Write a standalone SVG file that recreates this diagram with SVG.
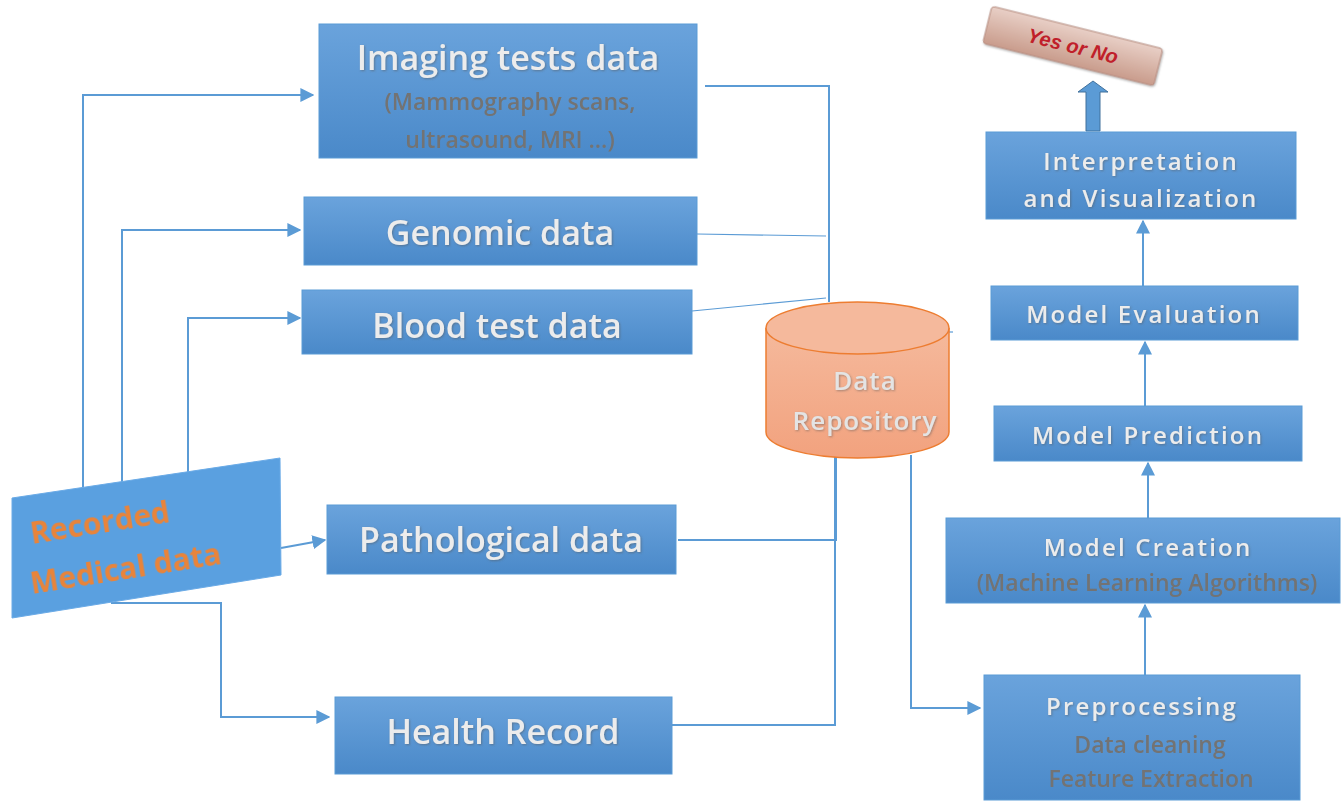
<svg xmlns="http://www.w3.org/2000/svg" width="1341" height="801" viewBox="0 0 1341 801">
<defs>
<linearGradient id="bg" x1="0" y1="0" x2="0" y2="1"><stop offset="0" stop-color="#6aa3dc"/><stop offset="1" stop-color="#4a89c9"/></linearGradient>
<linearGradient id="cyl" x1="0" y1="0" x2="0" y2="1"><stop offset="0" stop-color="#f5b99c"/><stop offset="1" stop-color="#f2a27e"/></linearGradient>
<linearGradient id="btn" x1="0" y1="0" x2="0" y2="1"><stop offset="0" stop-color="#e8cfc6"/><stop offset="1" stop-color="#c99c8c"/></linearGradient>
<marker id="ah" viewBox="0 0 10 10" refX="9" refY="5" markerWidth="14" markerHeight="14" markerUnits="userSpaceOnUse" orient="auto"><path d="M0,0 L10,5 L0,10 z" fill="#5b9bd5"/></marker>
<filter id="sh" x="-10%" y="-10%" width="130%" height="130%"><feDropShadow dx="1" dy="1" stdDeviation="0.8" flood-color="#555" flood-opacity="0.5"/></filter>
<filter id="bl" x="-10%" y="-10%" width="120%" height="130%"><feGaussianBlur stdDeviation="0.6"/></filter>
</defs>
<style>
.box{fill:url(#bg);stroke:#5b9bd5;stroke-width:1}
.t{font-family:"Open Sans","DejaVu Sans",sans-serif;fill:#ececec;text-anchor:middle;font-weight:600;filter:url(#sh)}
.tb{font-size:34px}
.tr{font-size:24px;letter-spacing:2.2px}
.s{font-family:"Open Sans","DejaVu Sans",sans-serif;fill:#737373;text-anchor:middle;font-weight:600;font-size:23px;filter:url(#bl)}
.c{fill:none;stroke:#5b9bd5;stroke-width:2}
.c1{fill:none;stroke:#5b9bd5;stroke-width:1.2}
</style>
<g id="connectors">
<polyline class="c" points="83,500 83,95 313,95" marker-end="url(#ah)"/>
<polyline class="c" points="122,484 122,230 300,230" marker-end="url(#ah)"/>
<polyline class="c" points="188,474 188,318 300,318" marker-end="url(#ah)"/>
<polyline class="c" points="281,548 325,540" marker-end="url(#ah)"/>
<polyline class="c" points="111,603 221,603 221,717 329,717" marker-end="url(#ah)"/>
<polyline class="c" points="705,86 829,86 829,302"/>
<polyline class="c1" points="697,234 826,236"/>
<polyline class="c1" points="692,311 826,298"/>
<polyline class="c" points="678,540 836,540 836,457"/>
<polyline class="c" points="672,725 835,725 835,457"/>
<polyline class="c" points="911,455 911,708 980,708" marker-end="url(#ah)"/>
<polyline class="c" points="1145,675 1145,605" marker-end="url(#ah)"/>
<polyline class="c" points="1148,518 1148,463" marker-end="url(#ah)"/>
<polyline class="c" points="1145,406 1145,342" marker-end="url(#ah)"/>
<polyline class="c" points="1143,286 1143,221" marker-end="url(#ah)"/>
<polyline class="c1" points="949,332 953,332"/>
<path d="M1086,131 L1086,92 L1078,92 L1093,81 L1108,92 L1100,92 L1100,131 Z" fill="#5b9bd5" stroke="#41719c" stroke-width="1"/>
</g>
<g id="recorded">
<polygon points="12,498 280,458 281,575 12,618" fill="#5aa0e0" stroke="#6aaae6"/>
<text x="32" y="544" font-family="Open Sans, DejaVu Sans, sans-serif" font-weight="700" font-size="30" fill="#e8843a" transform="rotate(-9 32 544)" filter="url(#bl)">Recorded</text>
<text x="32" y="594" font-family="Open Sans, DejaVu Sans, sans-serif" font-weight="700" font-size="30" fill="#e8843a" transform="rotate(-9 32 594)" filter="url(#bl)">Medical data</text>
</g>
<g id="imaging">
<rect class="box" x="319" y="24" width="378" height="134"/>
<text class="t tb" x="508" y="70">Imaging tests data</text>
<text class="s" x="510" y="110">(Mammography scans,</text>
<text class="s" x="510" y="148">ultrasound, MRI …)</text>
</g>
<g id="genomic">
<rect class="box" x="304" y="197" width="393" height="68"/>
<text class="t tb" x="500" y="245">Genomic data</text>
</g>
<g id="blood">
<rect class="box" x="302" y="290" width="390" height="64"/>
<text class="t tb" x="497" y="338">Blood test data</text>
</g>
<g id="pathological">
<rect class="box" x="327" y="505" width="349" height="69"/>
<text class="t tb" x="501" y="552">Pathological data</text>
</g>
<g id="health">
<rect class="box" x="335" y="697" width="337" height="77"/>
<text class="t tb" x="503" y="744">Health Record</text>
</g>
<g id="repository">
<path d="M766,328 L766,432 A91.5,26 0 0 0 949,432 L949,328" fill="url(#cyl)" stroke="#ed7d31" stroke-width="1.5"/>
<ellipse cx="857.5" cy="328" rx="91.5" ry="26" fill="#f5b99c" stroke="#ed7d31" stroke-width="1.5"/>
<text x="865" y="390" font-family="Open Sans, DejaVu Sans, sans-serif" font-size="26" letter-spacing="1" fill="#e4e4e4" text-anchor="middle" font-weight="600" filter="url(#sh)">Data</text>
<text x="865" y="430" font-family="Open Sans, DejaVu Sans, sans-serif" font-size="26" letter-spacing="1" fill="#e4e4e4" text-anchor="middle" font-weight="600" filter="url(#sh)">Repository</text>
</g>
<g id="yesno">
<g transform="rotate(14 1073 45)">
<rect x="985" y="27" width="176" height="38" rx="3" fill="url(#btn)" stroke="#b88d80" filter="url(#sh)"/>
<text x="1073" y="53" font-family="Liberation Sans, Arial, sans-serif" font-style="italic" font-weight="700" font-size="20" fill="#c0202a" text-anchor="middle">Yes or No</text>
</g>
</g>
<g id="interpretation">
<rect class="box" x="986" y="132" width="310" height="87"/>
<text class="t tr" x="1141" y="170">Interpretation</text>
<text class="t tr" x="1141" y="207">and Visualization</text>
</g>
<g id="evaluation">
<rect class="box" x="991" y="286" width="307" height="54"/>
<text class="t tr" x="1144" y="323">Model Evaluation</text>
</g>
<g id="prediction">
<rect class="box" x="994" y="406" width="308" height="55"/>
<text class="t tr" x="1148" y="444">Model Prediction</text>
</g>
<g id="creation">
<rect class="box" x="946" y="518" width="394" height="85"/>
<text class="t tr" x="1148" y="556">Model Creation</text>
<text class="s" x="1147" y="591">(Machine Learning  Algorithms)</text>
</g>
<g id="preprocessing">
<rect class="box" x="984" y="675" width="316" height="125"/>
<text class="t tr" x="1142" y="715">Preprocessing</text>
<text class="s" x="1150" y="753">Data cleaning</text>
<text class="s" x="1151" y="787">Feature Extraction</text>
</g>
</svg>
